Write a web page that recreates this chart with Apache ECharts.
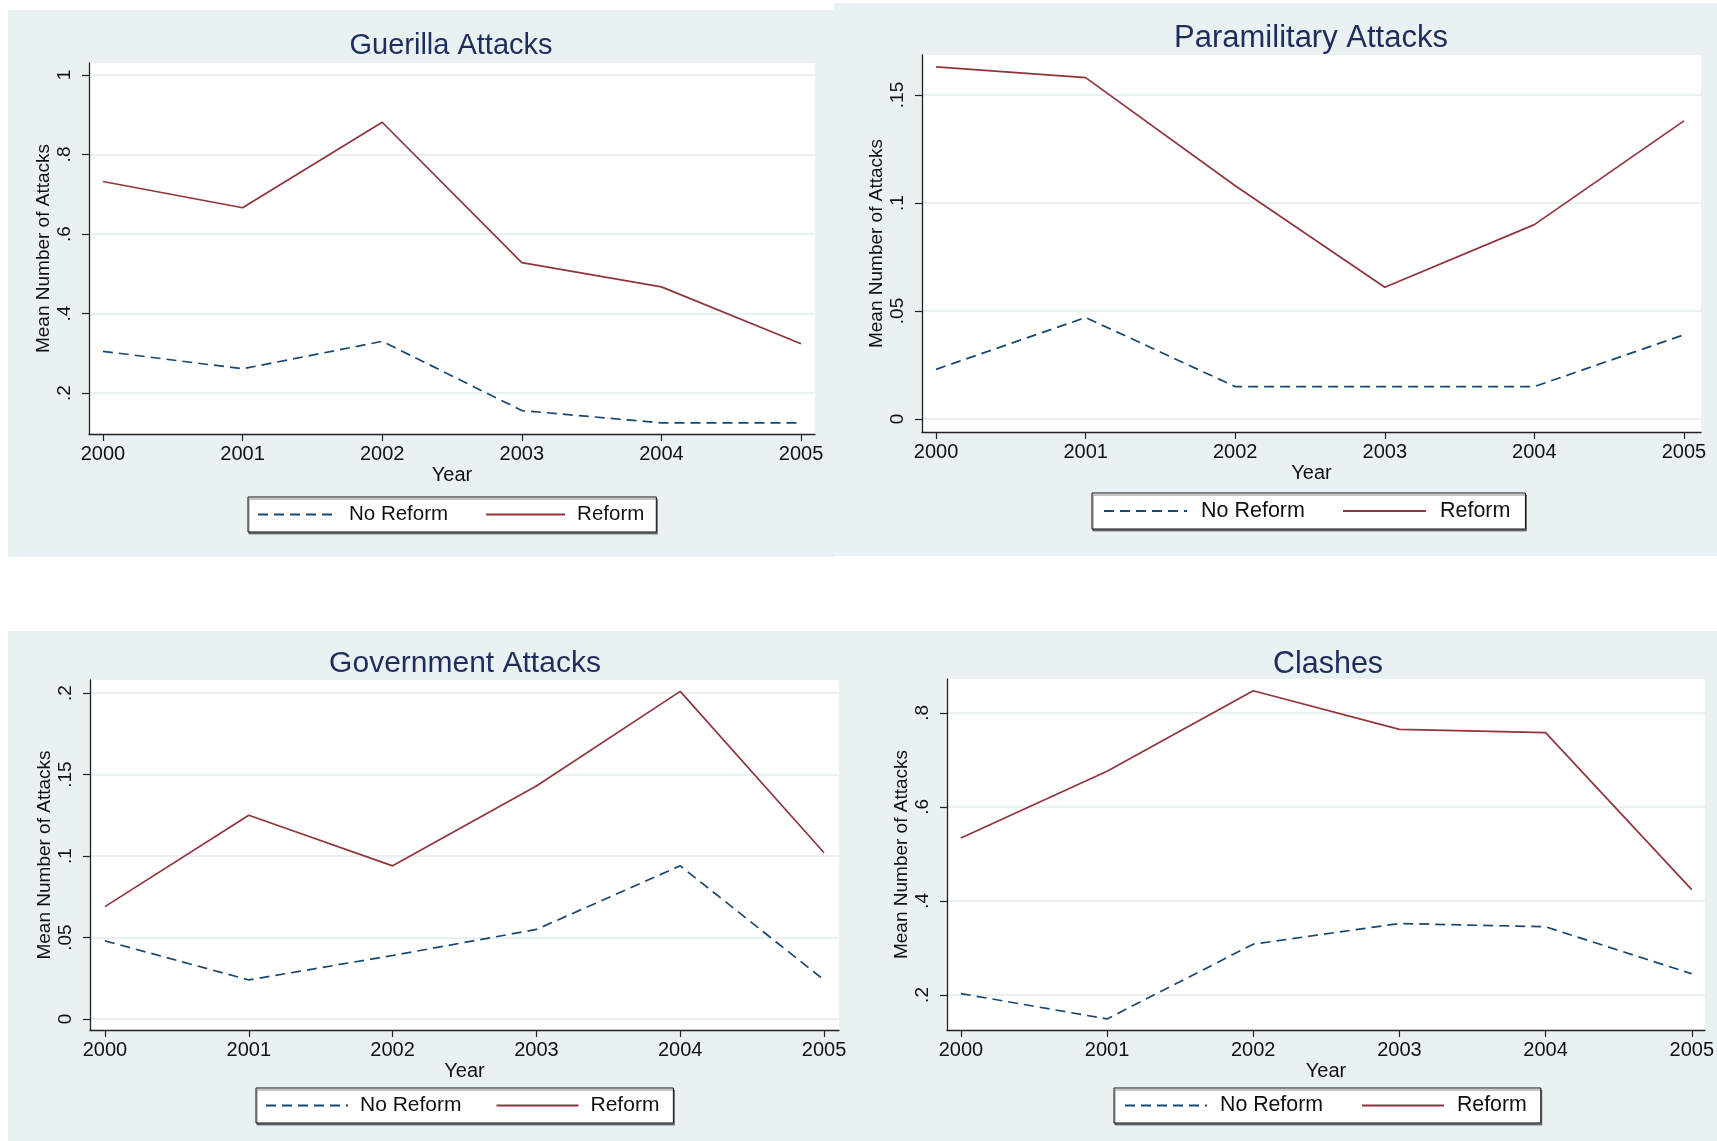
<!DOCTYPE html>
<html>
<head>
<meta charset="utf-8">
<script src="https://cdn.jsdelivr.net/npm/echarts@6/dist/echarts.min.js"></script>
<style>
  html, body { margin: 0; padding: 0; background: #fff; }
  #main { width: 1717px; height: 1141px; }
</style>
</head>
<body>
<div id="main"></div>
<script>
var years = [2000, 2001, 2002, 2003, 2004, 2005];
var seriesNames = ['No Reform', 'Reform'];

var guerillaNoReform = [0.305, 0.261, 0.330, 0.156, 0.125, 0.125];
var guerillaReform = [0.732, 0.666, 0.881, 0.528, 0.467, 0.324];
var guerillaTicks = [0.2, 0.4, 0.6, 0.8, 1];

var paraNoReform = [0.023, 0.047, 0.015, 0.015, 0.015, 0.039];
var paraReform = [0.163, 0.158, 0.108, 0.061, 0.090, 0.138];
var paraTicks = [0, 0.05, 0.1, 0.15];

var govNoReform = [0.048, 0.024, 0.039, 0.055, 0.094, 0.024];
var govReform = [0.069, 0.125, 0.094, 0.143, 0.201, 0.102];
var govTicks = [0, 0.05, 0.1, 0.15, 0.2];

var clashNoReform = [0.203, 0.149, 0.308, 0.352, 0.345, 0.245];
var clashReform = [0.534, 0.676, 0.847, 0.765, 0.758, 0.424];
var clashTicks = [0.2, 0.4, 0.6, 0.8];

var font = 'Liberation Sans, Arial, Helvetica, sans-serif';
var navy = '#1a476f';
var maroon = '#90353b';
var bgColor = '#e9f1f3';

// one entry per panel
var panels = [
    {title: 'Guerilla Attacks', noReform: guerillaNoReform, reform: guerillaReform, ticks: guerillaTicks,
     grid: {left: 89, top: 63, width: 726, height: 371}, yMin: 0.097, yMax: 1.03, xMin: 1999.9, xMax: 2005.1,
     titleX: 446, titleY: 26, titleSize: 29,
     legend: {x: 248, y: 497, icon: 79, text: 20.5, textGap: 7, gap: 37, padL: 9, padR: 12}},
    {title: 'Paramilitary Attacks', noReform: paraNoReform, reform: paraReform, ticks: paraTicks,
     grid: {left: 922, top: 55, width: 779, height: 377}, yMin: -0.006, yMax: 0.1685, xMin: 1999.906, xMax: 2005.114,
     titleX: 1306, titleY: 18, titleSize: 31,
     legend: {x: 1092, y: 493, icon: 83, text: 21.5, textGap: 9, gap: 37, padL: 11, padR: 15}},
    {title: 'Government Attacks', noReform: govNoReform, reform: govReform, ticks: govTicks,
     grid: {left: 90, top: 680, width: 749, height: 350}, yMin: -0.0067, yMax: 0.208, xMin: 1999.896, xMax: 2005.104,
     titleX: 460, titleY: 644, titleSize: 30,
     legend: {x: 256, y: 1088, icon: 82, text: 21, textGap: 7, gap: 34, padL: 9, padR: 14}},
    {title: 'Clashes', noReform: clashNoReform, reform: clashReform, ticks: clashTicks,
     grid: {left: 947, top: 679, width: 762, height: 351}, yMin: 0.1255, yMax: 0.872, xMin: 1999.905, xMax: 2005.09,
     titleX: 1323, titleY: 644, titleSize: 30.5,
     legend: {x: 1114, y: 1088, icon: 82, text: 21.3, textGap: 8, gap: 38, padL: 10, padR: 14}}
];

function fmtY(v) {
    if (v === 0) return '0';
    return String(v).replace(/^0\./, '.');
}

function pairs(vals) {
    return years.map(function (y, i) { return [y, vals[i]]; });
}

var option = {
    backgroundColor: '#fff',
    animation: false,
    textStyle: {fontFamily: font},
    graphic: [
        {type: 'rect', z: -10, silent: true, shape: {x: 8, y: 10, width: 826, height: 547}, style: {fill: bgColor}},
        {type: 'rect', z: -10, silent: true, shape: {x: 834, y: 3, width: 883, height: 553}, style: {fill: bgColor}},
        {type: 'rect', z: -10, silent: true, shape: {x: 8, y: 631, width: 1709, height: 510}, style: {fill: bgColor}}
    ],
    title: [], legend: [], grid: [], xAxis: [], yAxis: [], series: []
};

panels.forEach(function (p, i) {
    var lg = p.legend;
    option.title.push({
        text: p.title, left: p.titleX, top: p.titleY,
        textAlign: 'center', textVerticalAlign: 'top',
        textStyle: {fontFamily: font, fontSize: p.titleSize, fontWeight: 'normal', color: '#1f2d5c'}
    });
    option.grid.push({
        left: p.grid.left, top: p.grid.top, width: p.grid.width, height: p.grid.height,
        show: true, backgroundColor: '#fff', borderWidth: 0
    });
    option.xAxis.push({
        type: 'value', gridIndex: i, min: p.xMin, max: p.xMax,
        name: 'Year', nameLocation: 'middle', nameGap: 31,
        nameTextStyle: {fontFamily: font, fontSize: 20, color: '#111'},
        axisLine: {show: true, onZero: false, lineStyle: {color: '#222', width: 1.3}},
        axisTick: {show: true, inside: false, length: 7, customValues: years, lineStyle: {color: '#222', width: 1.2}},
        axisLabel: {customValues: years, margin: 10, fontFamily: font, fontSize: 20, color: '#111',
                    formatter: function (v) { return String(v); }},
        splitLine: {show: false}
    });
    option.yAxis.push({
        type: 'value', gridIndex: i, min: p.yMin, max: p.yMax,
        name: 'Mean Number of Attacks', nameLocation: 'middle', nameRotate: 90, nameGap: 36,
        nameTextStyle: {fontFamily: font, fontSize: 19, color: '#111'},
        axisLine: {show: true, onZero: false, lineStyle: {color: '#222', width: 1.3}},
        axisTick: {show: true, inside: false, length: 7, customValues: p.ticks, lineStyle: {color: '#222', width: 1.2}},
        axisLabel: {customValues: p.ticks, rotate: 90, margin: 15, fontFamily: font, fontSize: 19, color: '#111',
                    formatter: fmtY},
        splitLine: {show: true, lineStyle: {color: '#e3ecef', width: 1.5}}
    });
    option.series.push({
        name: seriesNames[0], type: 'line', xAxisIndex: i, yAxisIndex: i,
        data: pairs(p.noReform), symbol: 'none', z: 3,
        lineStyle: {color: navy, width: 1.7, type: [10, 6]}, itemStyle: {color: navy}
    });
    option.series.push({
        name: seriesNames[1], type: 'line', xAxisIndex: i, yAxisIndex: i,
        data: pairs(p.reform), symbol: 'none', z: 3,
        lineStyle: {color: maroon, width: 1.7, type: 'solid'}, itemStyle: {color: maroon}
    });
    option.legend.push({
        data: seriesNames, left: lg.x, top: lg.y, orient: 'horizontal',
        itemWidth: lg.icon, itemHeight: 14, itemGap: lg.gap,
        padding: [7, lg.padR, 7, lg.padL],
        backgroundColor: '#fff', borderColor: '#111', borderWidth: 1,
        shadowColor: 'rgba(0,0,0,0.45)', shadowOffsetX: 1, shadowOffsetY: 2, shadowBlur: 0,
        selectedMode: false,
        itemStyle: {opacity: 0},
        textStyle: {fontFamily: font, fontSize: lg.text, color: '#111', padding: [0, 0, 0, lg.textGap]}
    });
});

var myChart = echarts.init(document.getElementById('main'));
myChart.setOption(option);
</script>
</body>
</html>
